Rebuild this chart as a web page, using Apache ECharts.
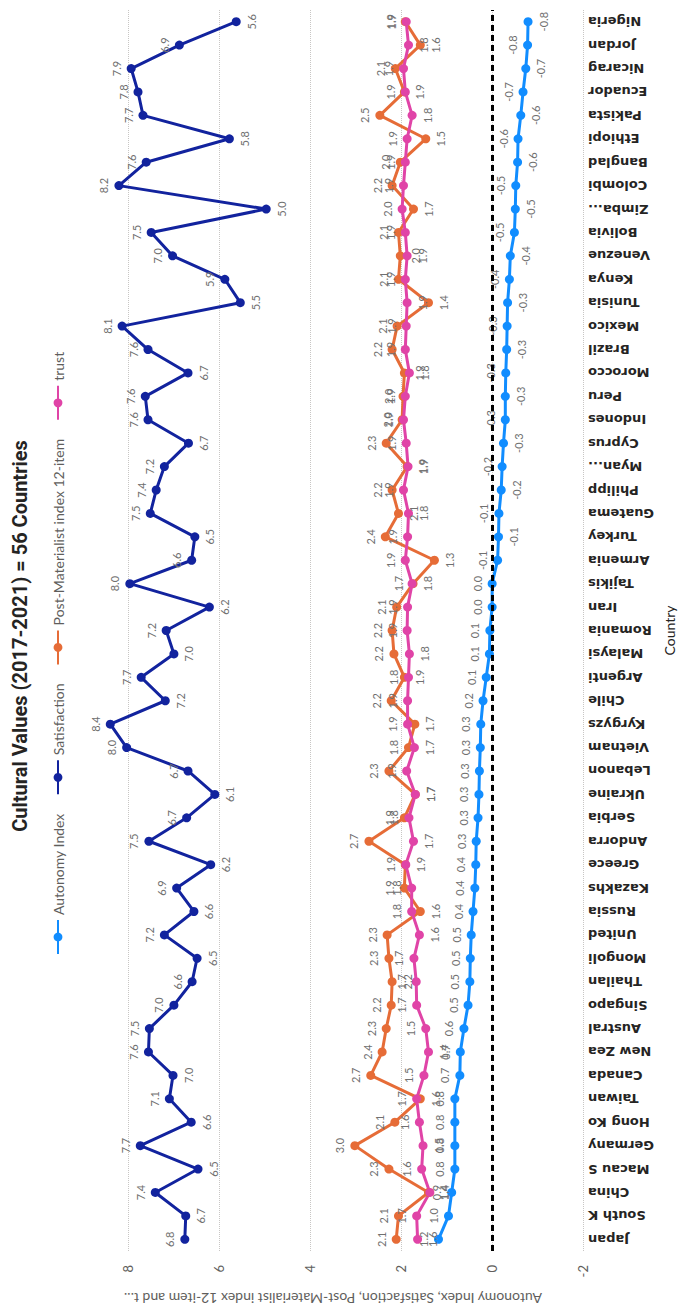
<!DOCTYPE html>
<html>
<head>
<meta charset="utf-8">
<script src="https://cdn.jsdelivr.net/npm/echarts@6/dist/echarts.min.js"></script>
<style>
html,body{margin:0;padding:0;overflow:hidden;background:#fff;width:681px;height:1313px;}
#main{position:absolute;left:0;top:0;width:1313px;height:681px;transform-origin:0 0;transform:translate(0,1313px) rotate(-90deg);}
</style>
</head>
<body>
<div id="main"></div>
<script>
const countries = ["Japan","South K","China","Macau S","Germany","Hong Ko","Taiwan","Canada","New Zea","Austral","Singapo","Thailan","Mongoli","United","Russia","Kazakhs","Greece","Andorra","Serbia","Ukraine","Lebanon","Vietnam","Kyrgyzs","Chile","Argenti","Malaysi","Romania","Iran","Tajikis","Armenia","Turkey","Guatema","Philipp","Myan...","Cyprus","Indones","Peru","Morocco","Brazil","Mexico","Tunisia","Kenya","Venezue","Bolivia","Zimba...","Colombi","Banglad","Ethiopi","Pakista","Ecuador","Nicarag","Jordan","Nigeria"];

const autonomy = [1.18,0.96,0.89,0.82,0.82,0.82,0.82,0.71,0.70,0.62,0.53,0.49,0.48,0.46,0.42,0.38,0.36,0.35,0.31,0.29,0.28,0.26,0.25,0.20,0.13,0.06,0.05,0.00,0.00,-0.12,-0.14,-0.15,-0.20,-0.22,-0.25,-0.29,-0.29,-0.30,-0.32,-0.33,-0.34,-0.38,-0.40,-0.49,-0.51,-0.52,-0.56,-0.57,-0.63,-0.68,-0.74,-0.78,-0.79];

const satisfaction = [6.76,6.74,7.41,6.47,7.74,6.62,7.10,7.02,7.56,7.54,7.00,6.60,6.49,7.21,6.56,6.94,6.19,7.55,6.72,6.10,6.69,8.04,8.40,7.19,7.72,7.00,7.17,6.22,7.97,6.61,6.54,7.52,7.39,7.21,6.68,7.57,7.63,6.69,7.57,8.14,5.54,5.88,7.03,7.50,4.97,8.21,7.61,5.78,7.68,7.79,7.94,6.88,5.63];

const postMaterialist = [2.11,2.06,1.40,2.27,3.02,2.14,1.58,2.67,2.42,2.33,2.22,2.20,2.27,2.31,1.58,1.93,1.91,2.71,1.93,1.69,2.27,1.84,1.70,2.22,1.93,2.16,2.20,2.10,1.74,1.27,2.35,2.06,2.20,1.87,2.33,1.98,1.96,1.93,2.20,2.09,1.40,2.06,2.02,2.06,1.73,2.20,2.02,1.46,2.47,1.93,2.13,1.58,1.91];

const trust = [1.64,1.66,1.37,1.55,1.52,1.60,1.66,1.50,1.40,1.46,1.66,1.67,1.72,1.60,1.77,1.77,1.90,1.73,1.83,1.69,1.88,1.71,1.86,1.86,1.84,1.82,1.87,1.86,1.76,1.91,1.86,1.84,1.95,1.85,1.89,1.95,1.91,1.82,1.91,1.89,1.87,1.91,1.87,1.91,1.98,1.95,1.91,1.87,1.76,1.91,1.95,1.84,1.89];

const seriesNames = ["Autonomy Index","Satisfaction","Post-Materialist index 12-item","trust"];
const seriesColors = ["#118DFF","#12239E","#E66C37","#E044A7"];
const valueMin = -2, valueMax = 9, valueStep = 2;
const titleText = "Cultural Values (2017-2021) = 56 Countries";
const valueAxisName = "Autonomy Index, Satisfaction, Post-Materialist index 12-item and t...";
const categoryAxisName = "Country";

function peakPos(arr, i) {
  const v = arr[i];
  const nb = [];
  if (i > 0) nb.push(arr[i - 1]);
  if (i < arr.length - 1) nb.push(arr[i + 1]);
  return nb.every(x => v < x) ? 'bottom' : 'top';
}
function autonomyPos(arr, i) {
  if (arr[i] >= 0) return 'top';
  return i % 2 === 0 ? 'bottom' : 'top';
}
function buildData(arr, posFn) {
  return arr.map((v, i) => ({ value: v, label: { position: posFn(arr, i) } }));
}

const allValues = [autonomy, satisfaction, postMaterialist, trust];
const posFns = [autonomyPos, peakPos, peakPos, peakPos];
const FONT = 'Lato, "Open Sans", sans-serif';

const series = allValues.map((arr, k) => {
  const s = {
    name: seriesNames[k],
    type: 'line',
    data: buildData(arr, posFns[k]),
    symbol: 'circle',
    symbolSize: 9,
    color: seriesColors[k],
    lineStyle: { width: 3, color: seriesColors[k] },
    itemStyle: { color: seriesColors[k] },
    label: {
      show: true,
      fontSize: 11,
      fontFamily: FONT,
      color: '#707070',
      distance: 5,
      formatter: p => Number(p.value).toFixed(1)
    },
    emphasis: { disabled: true },
    animation: false
  };
  if (k === 0) {
    s.markLine = {
      silent: true,
      symbol: ['none', 'none'],
      label: { show: false },
      lineStyle: { color: '#000', type: [6, 4], width: 3 },
      data: [{ yAxis: 0 }],
      animation: false
    };
  }
  return s;
});

const chart = echarts.init(document.getElementById('main'), null, { renderer: 'svg', width: 1313, height: 681 });
chart.setOption({
  backgroundColor: '#fff',
  animation: false,
  title: {
    text: titleText,
    left: 672,
    textAlign: 'center',
    top: 5,
    textStyle: { fontSize: 20, fontWeight: 'bold', color: '#252423', fontFamily: 'Roboto, sans-serif' }
  },
  legend: {
    data: seriesNames,
    left: 353,
    top: 46,
    itemWidth: 34,
    itemHeight: 11,
    itemGap: 18,
    textStyle: { fontSize: 14, color: '#605E5C', fontFamily: FONT }
  },
  grid: { left: 62, right: 10, top: 83, bottom: 93, containLabel: false },
  xAxis: {
    type: 'category',
    data: countries,
    boundaryGap: true,
    axisLine: { show: false },
    axisTick: { show: false },
    axisLabel: {
      rotate: 90,
      interval: 0,
      margin: 5,
      fontSize: 13,
      fontWeight: 'bold',
      color: '#252423',
      fontFamily: '"DejaVu Sans", sans-serif'
    },
    name: categoryAxisName,
    nameLocation: 'middle',
    nameGap: 74,
    nameTextStyle: { fontSize: 14, color: '#252423', fontFamily: FONT }
  },
  yAxis: {
    type: 'value',
    min: valueMin,
    max: valueMax,
    interval: valueStep,
    axisLine: { show: false },
    axisTick: { show: false },
    axisLabel: {
      fontSize: 13,
      color: '#605E5C',
      margin: 14,
      fontFamily: FONT,
      showMaxLabel: false,
      formatter: v => (v === valueMax ? '' : String(v))
    },
    splitLine: {
      show: true,
      showMaxLine: false,
      lineStyle: { type: 'dotted', color: '#C8C6C4', width: 1 }
    },
    name: valueAxisName,
    nameLocation: 'middle',
    nameGap: 40,
    nameTextStyle: { fontSize: 14, color: '#605E5C', fontFamily: FONT }
  },
  series: series
});
</script>
</body>
</html>
